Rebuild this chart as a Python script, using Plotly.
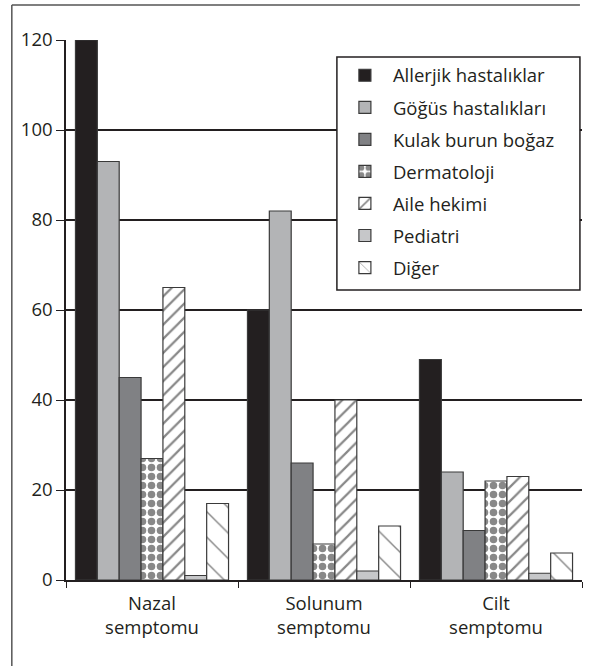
import plotly.graph_objects as go

categories = ["Nazal<br>semptomu", "Solunum<br>semptomu", "Cilt<br>semptomu"]
series_names = ["Allerjik hastalıklar", "Göğüs hastalıkları", "Kulak burun boğaz",
                "Dermatoloji", "Aile hekimi", "Pediatri", "Diğer"]
allerjik = [120, 60, 49]
gogus = [93, 82, 24]
kbb = [45, 26, 11]
dermatoloji = [27, 8, 22]
aile = [65, 40, 23]
pediatri = [1, 2, 1.5]
diger = [17, 12, 6]
y_ticks = [0, 20, 40, 60, 80, 100, 120]

values = [allerjik, gogus, kbb, dermatoloji, aile, pediatri, diger]
colors = ["#231f20", "#b3b4b6", "#808184", "white", "white", "#c6c7c9", "white"]
patterns = [None, None, None,
            dict(shape=".", fgcolor="#111", bgcolor="white", size=9, solidity=0.55, fillmode="overlay"),
            dict(shape="/", fgcolor="#111", bgcolor="white", size=10, solidity=0.22, fillmode="overlay"),
            None,
            dict(shape="\\", fgcolor="#111", bgcolor="white", size=18, solidity=0.08, fillmode="overlay")]

fig = go.Figure()
for i, (name, vals) in enumerate(zip(series_names, values)):
    marker = dict(color=colors[i], line=dict(color="#3a3a3a", width=1.2))
    if patterns[i]:
        marker["pattern"] = patterns[i]
    fig.add_trace(go.Bar(x=categories, y=vals, name=name, marker=marker,
                         legendgroup="g%d" % i))

fig.update_layout(
    width=589, height=666,
    margin=dict(l=66, r=7, t=40, b=86),
    paper_bgcolor="white", plot_bgcolor="white",
    barmode="group", bargap=0.11, bargroupgap=0,
    font=dict(family="Open Sans, Noto Sans, sans-serif", size=18.5, color="#231f20"),
    showlegend=True,
    legend=dict(x=0.525, y=0.969, xanchor="left", yanchor="top",
                bgcolor="rgba(0,0,0,0)", borderwidth=0,
                font=dict(size=18.5, color="#231f20"), tracegroupgap=5,
                itemwidth=46),
    xaxis=dict(showline=True, linecolor="#231f20", linewidth=1.5,
               ticks="outside", tickson="boundaries", ticklen=6, tickcolor="#231f20",
               tickfont=dict(size=18.5), showgrid=False, ticklabelstandoff=6),
    yaxis=dict(range=[0, 120], tickvals=y_ticks, showline=True, linecolor="#231f20",
               linewidth=1.5, ticks="outside", ticklen=8, tickcolor="#231f20",
               showgrid=True, gridcolor="#231f20", gridwidth=1.5,
               tickfont=dict(size=18.5), zeroline=False),
    shapes=[
        dict(type="line", xref="paper", yref="paper", x0=-0.105, x1=0.996,
             y0=1.065, y1=1.065, line=dict(color="#555", width=1.5)),
        dict(type="line", xref="paper", yref="paper", x0=-0.105, x1=-0.105,
             y0=1.065, y1=-0.16, line=dict(color="#555", width=1.5)),
        dict(type="rect", xref="paper", yref="paper", x0=0.525, x1=0.996,
             y0=0.537, y1=0.9685, fillcolor="white", layer="above",
             line=dict(color="#231f20", width=1.5)),
    ],
)

fig.write_html("out.html")
